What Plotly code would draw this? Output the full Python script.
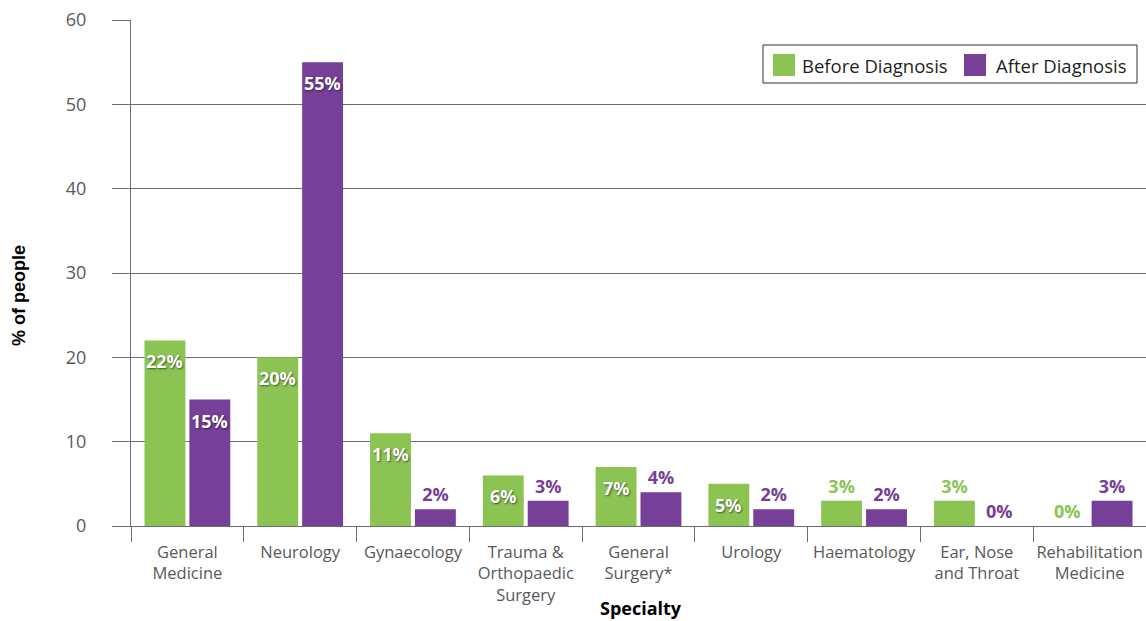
import plotly.graph_objects as go

# Hospital specialty seen, before and after diagnosis (% of people)
specialties = [
    "General<br>Medicine", "Neurology", "Gynaecology",
    "Trauma &<br>Orthopaedic<br>Surgery", "General<br>Surgery*", "Urology",
    "Haematology", "Ear, Nose<br>and Throat", "Rehabilitation<br>Medicine",
]
before_diagnosis = [22, 20, 11, 6, 7, 5, 3, 3, 0]
after_diagnosis = [15, 55, 2, 3, 4, 2, 2, 0, 3]
series_names = ["Before Diagnosis", "After Diagnosis"]
y_ticks = [0, 10, 20, 30, 40, 50, 60]
INSIDE_MIN = 5  # values at or above this get their label inside the bar

GREEN = "#8bc453"
PURPLE = "#763f98"
FONT = "Open Sans"
TICK_GREY = "#58595b"
LINE_GREY = "#6d6e70"

W, H = 1146, 621
M_L, M_R, M_T, M_B = 131, 0, 20, 95
PW, PH = W - M_L - M_R, H - M_T - M_B
BAR_OFFSET_PX = 22.5  # half a bar slot, centre of each bar from category centre


def px_x(px):
    return (px - M_L) / PW


def px_y(py):
    return (H - M_B - py) / PH


def bar_trace(name, values, color):
    # small values carry their label above the bar, in the bar colour
    return go.Bar(
        name=name,
        x=specialties,
        y=values,
        marker=dict(color=color, line=dict(width=0)),
        text=[f"{v}%" if v < INSIDE_MIN else "" for v in values],
        textposition="outside",
        constraintext="none",
        outsidetextfont=dict(family=FONT, size=18, color=color, weight="bold"),
        cliponaxis=False,
        showlegend=False,
        hoverinfo="x+y",
    )


fig = go.Figure([
    bar_trace(series_names[0], before_diagnosis, GREEN),
    bar_trace(series_names[1], after_diagnosis, PURPLE),
])

# larger values: white label with a soft shadow just inside the top of the bar
for values, shift in [(before_diagnosis, -BAR_OFFSET_PX), (after_diagnosis, BAR_OFFSET_PX)]:
    for cat, v in zip(specialties, values):
        if v >= INSIDE_MIN:
            fig.add_annotation(
                x=cat, y=v, xref="x", yref="y", text=f"{v}%",
                showarrow=False, xshift=shift, yshift=-7, yanchor="top",
                font=dict(family=FONT, size=18, color="white", weight="bold",
                          shadow="1px 1px 2px rgba(0,0,0,0.55)"),
            )

fig.update_layout(
    width=W, height=H,
    margin=dict(l=M_L, r=M_R, t=M_T, b=M_B, pad=0, autoexpand=False),
    paper_bgcolor="white", plot_bgcolor="white",
    barmode="group", bargap=0.204, bargroupgap=0.089,
    font=dict(family=FONT, color=TICK_GREY),
    showlegend=False,
)

fig.update_xaxes(
    type="category",
    range=[-0.5, 8.5],
    tickson="boundaries",
    ticks="outside", ticklen=15, tickwidth=1, tickcolor=LINE_GREY,
    showline=True, linecolor=LINE_GREY, linewidth=1,
    showgrid=False,
    tickangle=0, automargin=False,
    tickfont=dict(family=FONT, size=16.5, color=TICK_GREY),
    ticklabelstandoff=11,
)

fig.update_yaxes(
    range=[0, 60],
    tickvals=y_ticks,
    ticks="outside", ticklen=18, tickwidth=1, tickcolor=LINE_GREY,
    showgrid=True, gridcolor=LINE_GREY, gridwidth=1,
    showline=True, linecolor=LINE_GREY, linewidth=1,
    zeroline=False, automargin=False,
    tickfont=dict(family=FONT, size=18, color=TICK_GREY),
    ticklabelstandoff=22,
)

# Axis titles
fig.add_annotation(text="<b>% of people</b>", xref="paper", yref="paper",
                   x=px_x(19), y=px_y(296), xanchor="center", yanchor="middle",
                   textangle=-90, showarrow=False,
                   font=dict(family="Liberation Sans", size=18, color="black"))
fig.add_annotation(text="<b>Specialty</b>", xref="paper", yref="paper",
                   x=px_x(641), y=px_y(608), xanchor="center", yanchor="middle",
                   showarrow=False, borderpad=0,
                   font=dict(family=FONT, size=18, color="black"))

# Legend box with large colour swatches
fig.add_shape(type="rect", xref="paper", yref="paper",
              x0=px_x(763), x1=px_x(1137), y0=px_y(83), y1=px_y(45),
              line=dict(color="#333333", width=1), fillcolor="white", layer="above")
for name, color, sq_left, txt_left in [
    (series_names[0], GREEN, 773, 800),
    (series_names[1], PURPLE, 964, 994),
]:
    fig.add_shape(type="rect", xref="paper", yref="paper",
                  x0=px_x(sq_left), x1=px_x(sq_left + 22),
                  y0=px_y(76), y1=px_y(54),
                  line=dict(width=0), fillcolor=color, layer="above")
    fig.add_annotation(text=name, xref="paper", yref="paper",
                       x=px_x(txt_left), y=px_y(65), xanchor="left", yanchor="middle",
                       showarrow=False,
                       font=dict(family=FONT, size=18.5, color="#231f20"))

fig.write_html("out.html")
